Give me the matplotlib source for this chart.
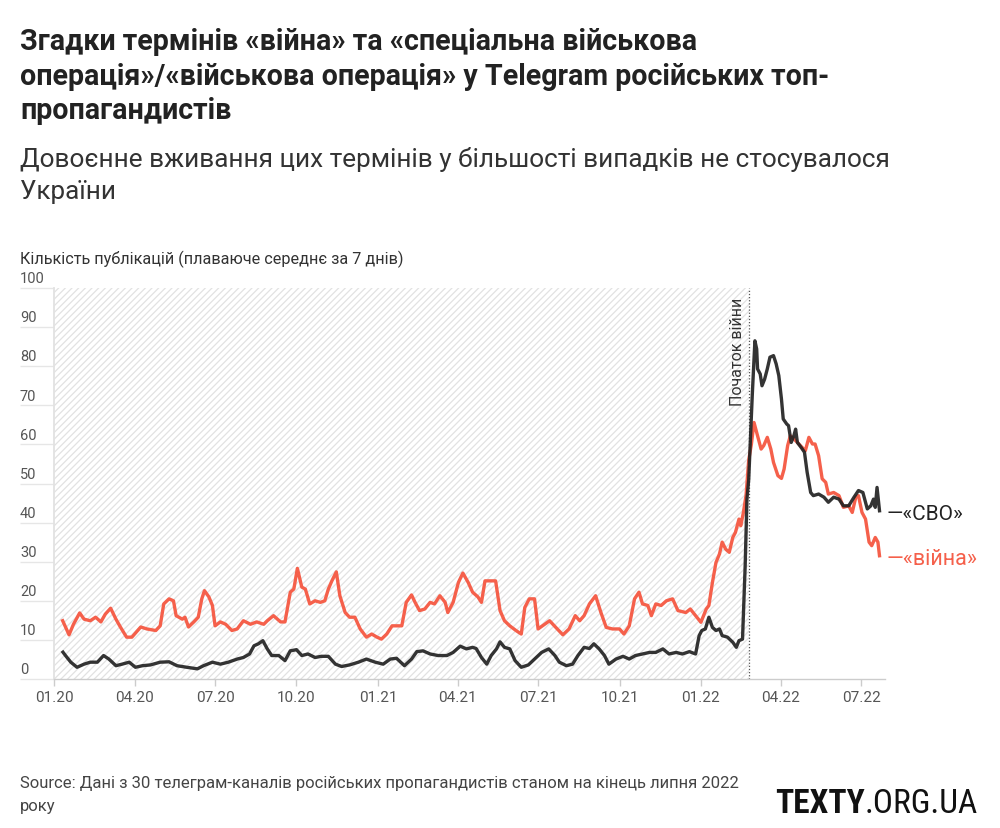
import matplotlib
matplotlib.use("Agg")
import matplotlib.pyplot as plt
import matplotlib.dates as mdates
import matplotlib.transforms as mtransforms
from matplotlib import font_manager as fm
import pandas as pd
import numpy as np

# ---------------- data (days since 2020-01-01, 7-day rolling mean) ----------------
START = "2020-01-01"
WAR_START = "2022-02-24"
X_END = "2022-07-28"

war_days = [9, 17, 22, 29, 34, 41, 47, 53, 58, 64, 70, 75, 82, 88, 98, 105, 115, 120, 124, 130,
            135, 138, 145, 148, 152, 158, 163, 167, 170, 175, 179, 182, 188, 194, 201, 207, 214,
            222, 229, 237, 241, 248, 256, 261, 267, 271, 275, 280, 284, 289, 295, 301, 306, 310,
            314, 319, 323, 329, 334, 340, 346, 353, 359, 365, 370, 376, 382, 387, 393, 398, 404,
            408, 413, 419, 425, 430, 436, 442, 445, 451, 457, 462, 468, 473, 479, 483, 487, 492,
            499, 504, 509, 515, 522, 528, 532, 537, 543, 547, 552, 560, 567, 575, 582, 589, 594,
            599, 605, 612, 618, 624, 631, 639, 644, 650, 656, 661, 665, 671, 675, 680, 686, 692,
            699, 705, 714, 719, 725, 731, 737, 740, 744, 748, 752, 755, 759, 763, 767, 770, 774,
            776, 779, 782, 785, 788, 791, 795, 799, 802, 806, 810, 813, 818, 822, 825, 829, 832,
            836, 840, 845, 849, 853, 857, 860, 864, 868, 872, 875, 881, 887, 892, 898, 902, 906,
            909, 913, 917, 921, 924, 928, 931, 933]
war_vals = [15.3, 11.3, 14.0, 16.9, 15.3, 14.9, 15.8, 14.6, 16.6, 18.1, 15.3, 13.3, 10.7, 10.7,
            13.3, 12.8, 12.4, 13.6, 19.2, 20.5, 20.0, 16.2, 15.3, 15.8, 13.3, 14.6, 15.8, 20.5,
            22.6, 21.0, 18.8, 13.6, 14.6, 14.0, 12.4, 12.8, 14.9, 14.0, 14.6, 14.0, 14.9, 16.2,
            14.6, 14.6, 22.2, 23.0, 28.3, 23.5, 23.0, 19.2, 20.0, 19.6, 20.0, 23.0, 25.1, 27.4,
            21.3, 17.0, 15.8, 15.8, 12.8, 10.7, 11.5, 10.7, 10.2, 11.5, 13.6, 13.6, 13.6, 19.6,
            21.5, 19.6, 17.5, 17.9, 19.6, 19.2, 21.3, 19.6, 17.0, 19.6, 24.7, 27.1, 24.7, 22.2,
            21.0, 19.6, 25.1, 25.1, 25.1, 17.5, 14.9, 13.6, 12.4, 11.5, 18.3, 20.5, 20.5, 12.8,
            13.6, 14.9, 13.2, 11.3, 12.8, 16.2, 14.9, 16.2, 19.2, 21.3, 17.0, 13.2, 12.8, 12.8,
            11.5, 13.6, 20.5, 22.2, 19.2, 18.8, 16.2, 19.2, 18.8, 20.0, 20.5, 17.5, 17.0, 17.9,
            16.2, 14.5, 17.9, 18.8, 24.7, 29.8, 32.0, 35.0, 33.2, 32.4, 36.2, 37.5, 40.9, 39.2,
            42.6, 47.0, 56.0, 60.0, 65.6, 62.2, 58.8, 59.7, 61.8, 58.8, 55.4, 52.0, 51.3, 53.7,
            59.7, 62.2, 61.4, 60.5, 59.3, 58.4, 61.8, 60.1, 60.1, 57.1, 51.2, 50.3, 47.3, 47.7,
            46.9, 43.9, 44.3, 42.6, 46.5, 46.9, 42.6, 40.9, 35.0, 34.1, 36.2, 35.0, 31.1]

svo_days = [9, 13, 19, 26, 34, 41, 49, 56, 62, 70, 77, 85, 92, 100, 109, 120, 130, 139, 150, 162,
            169, 179, 188, 197, 207, 214, 221, 226, 231, 236, 241, 246, 254, 261, 267, 274, 280,
            287, 295, 302, 310, 318, 325, 334, 344, 353, 363, 372, 380, 387, 396, 404, 410, 417,
            425, 434, 444, 451, 459, 466, 473, 477, 483, 489, 494, 500, 504, 509, 515, 521, 528,
            536, 543, 551, 559, 566, 571, 579, 586, 592, 599, 605, 610, 616, 622, 627, 635, 643,
            650, 657, 665, 673, 680, 688, 695, 703, 710, 718, 725, 729, 732, 736, 740, 744, 748,
            752, 755, 761, 767, 771, 774, 778, 781, 783, 785, 789, 792, 794, 795, 798, 800, 803,
            806, 809, 813, 816, 819, 822, 824, 828, 830, 833, 836, 838, 840, 844, 848, 851, 855,
            858, 864, 870, 875, 881, 887, 892, 898, 904, 909, 914, 919, 923, 926, 928, 930, 933]
svo_vals = [7.2, 6.0, 4.3, 3.0, 3.8, 4.3, 4.3, 6.0, 5.1, 3.4, 3.8, 4.3, 3.0, 3.4, 3.6, 4.3, 4.4,
            3.4, 3.0, 2.6, 3.4, 4.3, 3.8, 4.3, 5.1, 5.5, 6.4, 8.5, 9.0, 9.8, 7.7, 6.0, 6.0, 4.7,
            7.2, 7.5, 6.0, 6.4, 5.5, 5.8, 5.8, 3.8, 3.2, 3.6, 4.3, 5.1, 4.3, 3.8, 5.1, 5.3, 3.4,
            5.1, 7.0, 7.2, 6.4, 6.0, 6.0, 6.8, 8.4, 7.7, 8.1, 7.8, 5.5, 3.8, 6.0, 7.7, 9.5, 8.1,
            7.7, 4.7, 3.0, 3.6, 5.1, 6.8, 7.7, 6.0, 4.3, 3.4, 3.8, 6.0, 8.1, 7.8, 9.0, 7.7, 6.0,
            3.8, 5.1, 5.8, 5.1, 6.0, 6.4, 6.8, 6.8, 7.7, 6.4, 6.8, 6.4, 7.0, 6.4, 11.1, 12.4,
            12.8, 15.8, 13.2, 12.4, 12.8, 11.1, 10.7, 9.4, 8.1, 9.8, 10.2, 29.0, 46.0, 51.0,
            72.5, 86.5, 84.4, 79.3, 78.0, 75.0, 76.7, 79.3, 82.3, 82.7, 80.6, 77.6, 71.6, 66.5,
            65.2, 64.8, 60.5, 62.2, 63.9, 60.5, 59.3, 58.0, 52.9, 47.7, 46.9, 47.3, 46.5, 45.2,
            46.5, 46.0, 44.3, 44.3, 46.5, 48.2, 47.7, 43.5, 44.3, 46.0, 43.9, 49.0, 42.6]

y_ticks = [0, 10, 20, 30, 40, 50, 60, 70, 80, 90, 100]

TITLE = ("Згадки термінів «війна» та «спеціальна військова\n"
         "операція»/«військова операція» у Telegram російських топ-\n"
         "пропагандистів")
SUBTITLE = ("Довоєнне вживання цих термінів у більшості випадків не стосувалося\n"
            "України")
YLABEL = "Кількість публікацій (плаваюче середнє за 7 днів)"
SOURCE = ("Source: Дані з 30 телеграм-каналів російських пропагандистів станом на кінець липня 2022\n"
          "року")
WAR_LABEL = "Початок війни"
LBL_SVO = "—«СВО»"
LBL_WAR = "—«війна»"
LOGO_BOLD = "TEXTY"
LOGO_REST = ".ORG.UA"

# ---------------- fonts ----------------
def font_ok(name):
    try:
        fm.findfont(fm.FontProperties(family=name), fallback_to_default=False)
        return True
    except Exception:
        return False

MAIN = "Roboto" if font_ok("Roboto") else "DejaVu Sans"
plt.rcParams["font.family"] = [MAIN, "DejaVu Sans"]

logo_font = MAIN
for cand in ["Roboto Condensed", "Liberation Sans Narrow", "Open Sans Condensed"]:
    if font_ok(cand):
        logo_font = cand
        break

RED = "#f5604b"
BLACK = "#222222"

# ---------------- figure ----------------
W, H = 1000, 829
fig = plt.figure(figsize=(W / 100, H / 100), dpi=100)
fig.patch.set_facecolor("white")

ax_l, ax_r, ax_t, ax_b = 54, 885, 289, 680
ax = fig.add_axes([ax_l / W, 1 - ax_b / H, (ax_r - ax_l) / W, (ax_b - ax_t) / H])

t0 = pd.Timestamp(START)
war_dates = t0 + pd.to_timedelta(war_days, unit="D")
svo_dates = t0 + pd.to_timedelta(svo_days, unit="D")
war_t = pd.Timestamp(WAR_START)

plt.rcParams["hatch.linewidth"] = 0.9
ax.axvspan(t0, war_t, ymin=0, ymax=1, facecolor="white", edgecolor="#e2e2e2",
           hatch="/////", linewidth=0, zorder=0)
ax.axvline(war_t, color="#555555", linestyle=(0, (1, 1.5)), linewidth=0.9, zorder=1)

ax.plot(war_dates, war_vals, color=RED, linewidth=2.4, solid_joinstyle="round",
        solid_capstyle="butt", zorder=3)
ax.plot(svo_dates, svo_vals, color=BLACK, linewidth=2.4, alpha=0.92,
        solid_joinstyle="round", solid_capstyle="butt", zorder=4)

ax.set_xlim(t0, pd.Timestamp(X_END))
ax.set_ylim(0, 100)

for s in ["top", "right"]:
    ax.spines[s].set_visible(False)
ax.spines["left"].set_color("#e2e2e2")
ax.spines["left"].set_linewidth(1.3)
ax.spines["bottom"].set_color("#cccccc")
ax.spines["bottom"].set_linewidth(1.0)

ax.set_yticks(y_ticks)
ax.tick_params(axis="y", length=24.5, width=1.0, color="#e6e6e6", labelleft=False)
ax.xaxis.set_major_locator(mdates.MonthLocator(bymonth=[1, 4, 7, 10]))
ax.xaxis.set_major_formatter(mdates.DateFormatter("%m.%y"))
ax.tick_params(axis="x", length=5, width=1.0, color="#cccccc", labelsize=11,
               labelcolor="#555555", pad=3)

# y tick labels above the stub lines, left aligned
ytrans = mtransforms.blended_transform_factory(fig.transFigure, ax.transData)
ytrans = mtransforms.offset_copy(ytrans, fig=fig, x=0, y=2, units="points")
for v in y_ticks:
    ax.text(20 / W, v, str(v), transform=ytrans, ha="left", va="bottom",
            fontsize=10.5, color="#555555", clip_on=False)

# war marker label
ax.annotate(WAR_LABEL, xy=(war_t, 100), xytext=(-3, -6), textcoords="offset points",
            rotation=90, ha="right", va="top", fontsize=11.5, color="#333333")

# end labels
ax.annotate(LBL_SVO, xy=(svo_dates[-1], svo_vals[-1]), xytext=(5, -1),
            textcoords="offset points", ha="left", va="center", fontsize=15,
            color=BLACK, annotation_clip=False)
ax.annotate(LBL_WAR, xy=(war_dates[-1], war_vals[-1]), xytext=(5, -1),
            textcoords="offset points", ha="left", va="center", fontsize=15.5,
            color=RED, annotation_clip=False)

# texts
fig.text(20 / W, 1 - 28 / H, TITLE, ha="left", va="top", fontsize=20.6, fontweight="bold",
         color="#222222", linespacing=1.3)
fig.text(20 / W, 1 - 147 / H, SUBTITLE, ha="left", va="top", fontsize=18.8,
         color="#333333", linespacing=1.42)
fig.text(20 / W, 1 - 259 / H, YLABEL, ha="left", va="center", fontsize=11.7, color="#333333")
fig.text(20 / W, 1 - 776 / H, SOURCE, ha="left", va="top", fontsize=12, color="#444444",
         linespacing=1.65)

# logo: bold part, then the rest right after it
t_bold = fig.text(775 / W, 1 - 804 / H, LOGO_BOLD, ha="left", va="center", fontsize=24,
                  fontweight="bold", family=logo_font, color="#111111")
fig.canvas.draw()
bb = t_bold.get_window_extent(renderer=fig.canvas.get_renderer())
fig.text(bb.x1 / W, 1 - 804 / H, LOGO_REST, ha="left", va="center", fontsize=24,
         family=logo_font, color="#111111")

fig.savefig("out.png", dpi=100, facecolor="white")
